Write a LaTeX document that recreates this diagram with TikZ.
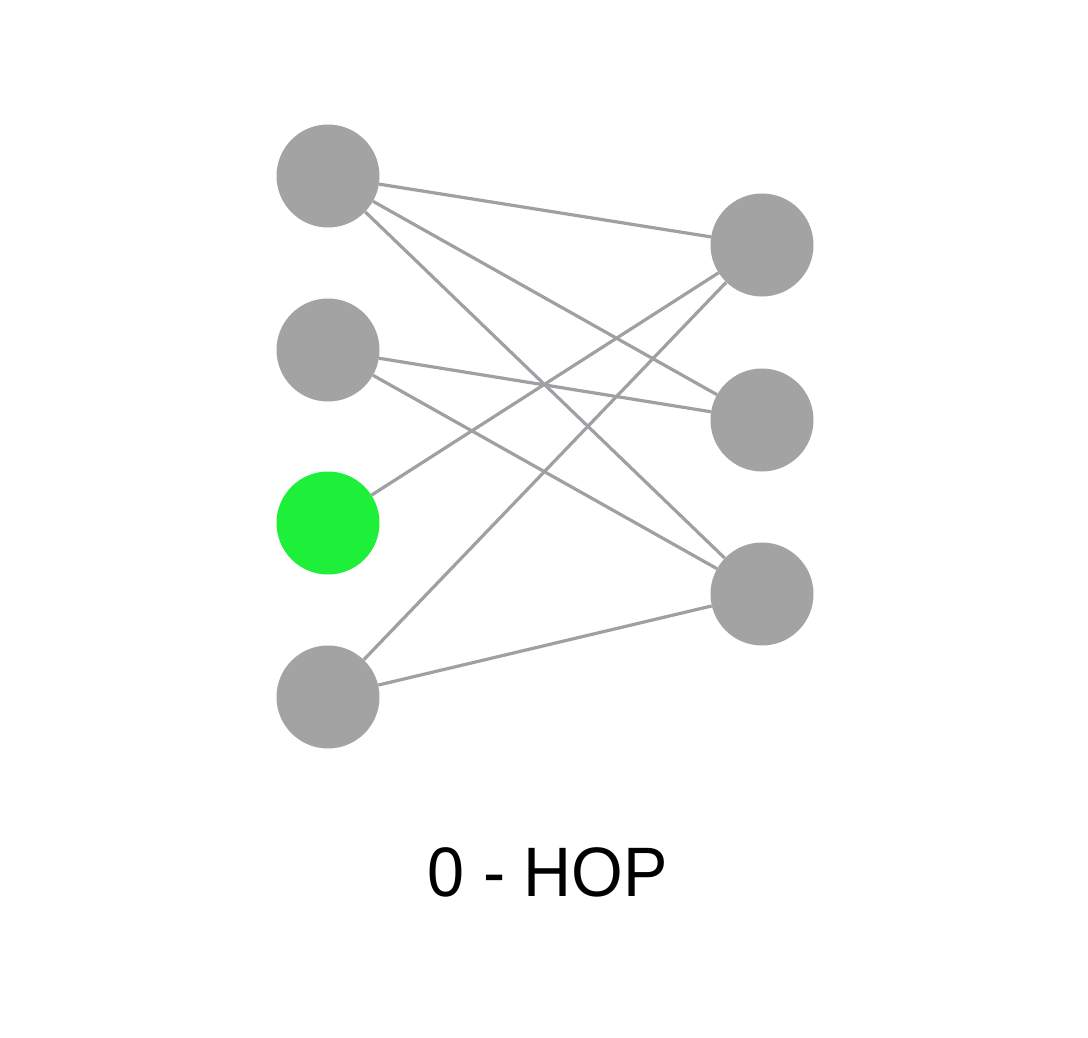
\documentclass[tikz,border=0pt]{standalone}
\usepackage{fontspec}
\setmainfont{Liberation Sans}
\definecolor{nodegray}{HTML}{A3A3A3}
\definecolor{edgegray}{HTML}{A09FA3}
\definecolor{nodegreen}{HTML}{1EF03A}
\begin{document}
\begin{tikzpicture}[x=1pt,y=-1pt,
  vert/.style={circle,fill=nodegray,minimum size=103pt,inner sep=0pt},
  active/.style={vert,fill=nodegreen},
  edge/.style={draw=edgegray,line width=3.2pt}]
\useasboundingbox[fill=white] (0,0) rectangle (1088,1038);
\node[vert] (L1) at (328,176) {};
\node[vert] (L2) at (328,350) {};
\node[active] (L3) at (328,523) {};
\node[vert] (L4) at (328,697) {};
\node[vert] (R1) at (762,245) {};
\node[vert] (R2) at (762,420) {};
\node[vert] (R3) at (762,594) {};
\path[edge] (L1) -- (R1);
\path[edge] (L1) -- (R2);
\path[edge] (L1) -- (R3);
\path[edge] (L2) -- (R2);
\path[edge] (L2) -- (R3);
\path[edge] (L3) -- (R1);
\path[edge] (L4) -- (R1);
\path[edge] (L4) -- (R3);
\node[anchor=base,font=\fontsize{70}{80}\selectfont,inner sep=0pt,xscale=0.95] (lbl) at (548,896) {0 - HOP};
\end{tikzpicture}
\end{document}
